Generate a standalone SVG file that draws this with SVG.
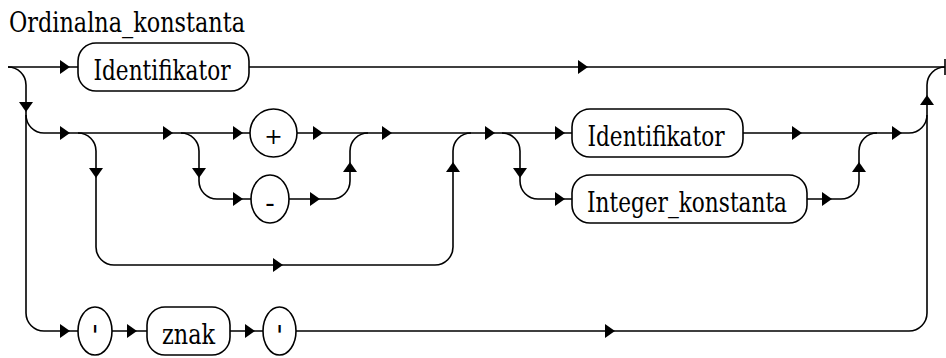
<svg xmlns="http://www.w3.org/2000/svg" xmlns:xlink="http://www.w3.org/1999/xlink" width="946" height="358" viewBox="0 0 946 358">
<style>
.ln{fill:none;stroke:#000;stroke-width:1.6}
.nd{fill:#fff;stroke:#000;stroke-width:1.6}
text{font-family:'DejaVu Serif','Liberation Serif',serif;font-size:28px;fill:#000}
.tx{text-anchor:middle}
</style>
<defs>
<path id="ar" d="M-10,-7 L0,0 L-10,7 Z" fill="#000"/>
</defs>
<rect width="946" height="358" fill="#fff"/>
<text x="9" y="32" textLength="236" lengthAdjust="spacingAndGlyphs">Ordinalna_konstanta</text>
<g id="connectors">
<path class="ln" d="M8,67 H78 M249,67 H945 M945,59 V75"/>
<path class="ln" d="M8,67 A18,18 0 0 1 26,85 V313 A18,18 0 0 0 44,331 H78"/>
<path class="ln" d="M26,115 A18,18 0 0 0 44,133 H250"/>
<path class="ln" d="M297,133 H572 M743,133 H909 A18,18 0 0 0 927,115"/>
<path class="ln" d="M296,331 H909 A18,18 0 0 0 927,313 V85 A18,18 0 0 1 945,67"/>
<path class="ln" d="M78,133 A18,18 0 0 1 96,151 V247 A18,18 0 0 0 114,265 H435 A18,18 0 0 0 453,247 V151 A18,18 0 0 1 471,133"/>
<path class="ln" d="M181,133 A18,18 0 0 1 199,151 V181 A18,18 0 0 0 217,199 H251 M289,199 H332 A18,18 0 0 0 350,181 V151 A18,18 0 0 1 368,133"/>
<path class="ln" d="M502,133 A18,18 0 0 1 520,151 V181 A18,18 0 0 0 538,199 H572 M807,199 H841 A18,18 0 0 0 859,181 V151 A18,18 0 0 1 877,133"/>
<path class="ln" d="M112,331 H147 M230,331 H263"/>
<use xlink:href="#ar" transform="translate(70,67)"/>
<use xlink:href="#ar" transform="translate(588,67)"/>
<use xlink:href="#ar" transform="translate(70,133)"/>
<use xlink:href="#ar" transform="translate(173,133)"/>
<use xlink:href="#ar" transform="translate(243,133)"/>
<use xlink:href="#ar" transform="translate(323,133)"/>
<use xlink:href="#ar" transform="translate(392,133)"/>
<use xlink:href="#ar" transform="translate(495,133)"/>
<use xlink:href="#ar" transform="translate(565,133)"/>
<use xlink:href="#ar" transform="translate(802,133)"/>
<use xlink:href="#ar" transform="translate(902,133)"/>
<use xlink:href="#ar" transform="translate(243,199)"/>
<use xlink:href="#ar" transform="translate(320,199)"/>
<use xlink:href="#ar" transform="translate(565,199)"/>
<use xlink:href="#ar" transform="translate(832,199)"/>
<use xlink:href="#ar" transform="translate(283,265)"/>
<use xlink:href="#ar" transform="translate(70,331)"/>
<use xlink:href="#ar" transform="translate(137,331)"/>
<use xlink:href="#ar" transform="translate(255,331)"/>
<use xlink:href="#ar" transform="translate(615,331)"/>
<use xlink:href="#ar" transform="translate(26,112) rotate(90)"/>
<use xlink:href="#ar" transform="translate(96,178) rotate(90)"/>
<use xlink:href="#ar" transform="translate(199,178) rotate(90)"/>
<use xlink:href="#ar" transform="translate(520,178) rotate(90)"/>
<use xlink:href="#ar" transform="translate(350,162) rotate(-90)"/>
<use xlink:href="#ar" transform="translate(453,162) rotate(-90)"/>
<use xlink:href="#ar" transform="translate(859,162) rotate(-90)"/>
<use xlink:href="#ar" transform="translate(927,95) rotate(-90)"/>
</g>
<g id="n_ident1"><rect class="nd" x="78" y="43" width="171" height="48" rx="18" ry="18"/><text class="tx" x="162" y="80" textLength="137" lengthAdjust="spacingAndGlyphs">Identifikator</text></g>
<g id="n_plus"><ellipse class="nd" cx="273.5" cy="133" rx="23.5" ry="24"/><text class="tx" x="273.5" y="144" style="font-size:22px">+</text></g>
<g id="n_minus"><ellipse class="nd" cx="270" cy="199" rx="19" ry="24"/><text class="tx" x="270" y="212">-</text></g>
<g id="n_ident2"><rect class="nd" x="572" y="109" width="171" height="48" rx="18" ry="18"/><text class="tx" x="656" y="146" textLength="137" lengthAdjust="spacingAndGlyphs">Identifikator</text></g>
<g id="n_int"><rect class="nd" x="572" y="175" width="235" height="48" rx="18" ry="18"/><text class="tx" x="687" y="212" textLength="200" lengthAdjust="spacingAndGlyphs">Integer_konstanta</text></g>
<g id="n_q1"><ellipse class="nd" cx="95" cy="331" rx="17" ry="24"/><text class="tx" x="95" y="346">'</text></g>
<g id="n_znak"><rect class="nd" x="147" y="307" width="83" height="48" rx="18" ry="18"/><text class="tx" x="188.5" y="344" textLength="53" lengthAdjust="spacingAndGlyphs">znak</text></g>
<g id="n_q2"><ellipse class="nd" cx="279.5" cy="331" rx="16.5" ry="24"/><text class="tx" x="279.5" y="346">'</text></g>
</svg>
